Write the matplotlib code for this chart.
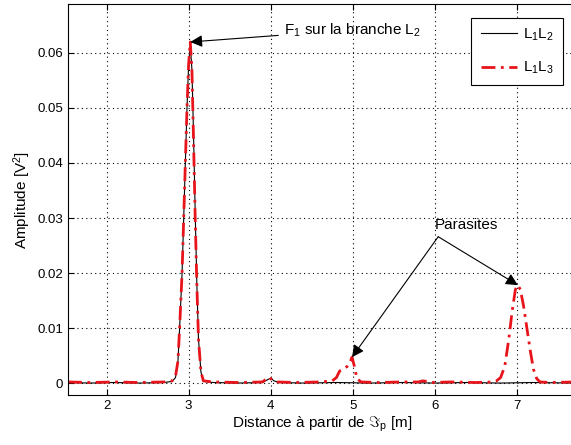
import matplotlib
matplotlib.use("Agg")
import matplotlib.pyplot as plt
from matplotlib.ticker import FormatStrFormatter

# distance [m] / amplitude [V^2]
x_l1l2 = [1.53, 1.8, 2.1, 2.4, 2.7, 2.80, 2.84, 2.87, 2.89, 2.92,
          2.94, 2.96, 2.98, 3.00, 3.02, 3.04, 3.06, 3.08, 3.10, 3.12,
          3.15, 3.18, 3.3, 3.6, 3.9, 3.96, 4.0, 4.04, 4.1, 4.4,
          4.8, 5.2, 5.6, 6.0, 6.4, 6.8, 7.2, 7.72]
y_l1l2 = [0.0001, 0.0, 0.0001, 0.0, 0.0001, 0.0003, 0.001, 0.004, 0.010, 0.020,
          0.030, 0.040, 0.050, 0.058, 0.0615, 0.057, 0.045, 0.031, 0.018, 0.008,
          0.002, 0.0003, 0.0001, 0.0, 0.0001, 0.0006, 0.0009, 0.0004, 0.0001, 0.0,
          0.0001, 0.0, 0.0001, 0.0, 0.0001, 0.0, 0.0001, 0.0]

x_l1l3 = [1.53, 1.8, 2.1, 2.4, 2.7, 2.80, 2.84, 2.87, 2.89, 2.92,
          2.94, 2.96, 2.98, 3.00, 3.02, 3.04, 3.06, 3.08, 3.10, 3.12,
          3.15, 3.18, 3.3, 3.6, 3.9, 3.95, 3.98, 4.02, 4.08, 4.3,
          4.6, 4.75, 4.80, 4.84, 4.88, 4.93, 4.96, 4.99, 5.02, 5.05,
          5.10, 5.3, 5.6, 5.8, 5.85, 5.9, 5.95, 6.2, 6.5, 6.7,
          6.75, 6.80, 6.85, 6.90, 6.94, 6.98, 7.01, 7.04, 7.08, 7.12,
          7.16, 7.20, 7.24, 7.28, 7.4, 7.72]
y_l1l3 = [0.0002, 0.0001, 0.0002, 0.0001, 0.0002, 0.0004, 0.0012, 0.004, 0.010, 0.020,
          0.030, 0.040, 0.050, 0.058, 0.062, 0.057, 0.044, 0.030, 0.018, 0.008,
          0.002, 0.0004, 0.0002, 0.0001, 0.0002, 0.0008, 0.0011, 0.0005, 0.0002, 0.0001,
          0.0002, 0.0004, 0.001, 0.0022, 0.0025, 0.003, 0.0035, 0.0047, 0.003, 0.0008,
          0.0002, 0.0001, 0.0002, 0.0002, 0.0004, 0.0003, 0.0001, 0.0002, 0.0001, 0.0002,
          0.0004, 0.001, 0.003, 0.008, 0.013, 0.017, 0.0178, 0.017, 0.014, 0.010,
          0.006, 0.0025, 0.0008, 0.0002, 0.0001, 0.0002]

x_ticks = [2, 3, 4, 5, 6, 7]
y_ticks = [0, 0.01, 0.02, 0.03, 0.04, 0.05, 0.06]

# annotation anchors (data coords)
f1_peak = (3.02, 0.062)
parasite_peaks = [(4.99, 0.0047), (7.01, 0.0178)]

plt.rcParams['font.family'] = ['Liberation Sans', 'DejaVu Sans']
plt.rcParams['mathtext.fontset'] = 'custom'
plt.rcParams['mathtext.rm'] = 'Liberation Sans'
plt.rcParams['mathtext.it'] = 'Liberation Sans'

fig = plt.figure(figsize=(5.71, 4.45), dpi=100)
ax = fig.add_axes([0.119, 0.112, 0.89, 0.879])

ax.plot(x_l1l2, y_l1l2, color='k', lw=0.8, label='L$_1$L$_2$')
ax.plot(x_l1l3, y_l1l3, color='#e8141c', lw=2.0, linestyle=(0, (5, 2, 1, 2)),
        label='L$_1$L$_3$')

ax.set_xlim(1.53, 7.72)
ax.set_ylim(-0.0022, 0.0689)
ax.set_xticks(x_ticks)
ax.set_yticks(y_ticks)
ax.yaxis.set_major_formatter(FormatStrFormatter('%g'))
ax.tick_params(direction='in', top=True, right=True, labelsize=9.5, length=4)
ax.grid(True, linestyle=(0, (1, 3)), color='k', lw=0.8)
for s in ax.spines.values():
    s.set_linewidth(0.8)

ax.set_xlabel(r'Distance à partir de $\Im_p$ [m]', fontsize=11, labelpad=2)
ax.set_ylabel('Amplitude [V$^2$]', fontsize=11, labelpad=3)

# arrows
ax.annotate('F$_1$ sur la branche L$_2$', xy=f1_peak, xytext=(4.16, 0.0642),
            fontsize=11, va='center',
            arrowprops=dict(arrowstyle='-|>', color='k', lw=0.8, mutation_scale=18,
                            shrinkA=2, shrinkB=0))
ax.text(6.0, 0.0287, 'Parasites', fontsize=11, va='center')
for p in parasite_peaks:
    ax.annotate('', xy=p, xytext=(6.04, 0.0266),
                arrowprops=dict(arrowstyle='-|>', color='k', lw=0.8, mutation_scale=18,
                                shrinkA=0, shrinkB=0))

leg = ax.legend(loc='upper right', bbox_to_anchor=(0.99, 0.985), fontsize=11,
                fancybox=False, framealpha=1, edgecolor='k', handlelength=2.4,
                handletextpad=0.4, labelspacing=1.1, borderpad=0.6)
leg.get_frame().set_linewidth(0.8)

fig.savefig('out.png', dpi=100)
